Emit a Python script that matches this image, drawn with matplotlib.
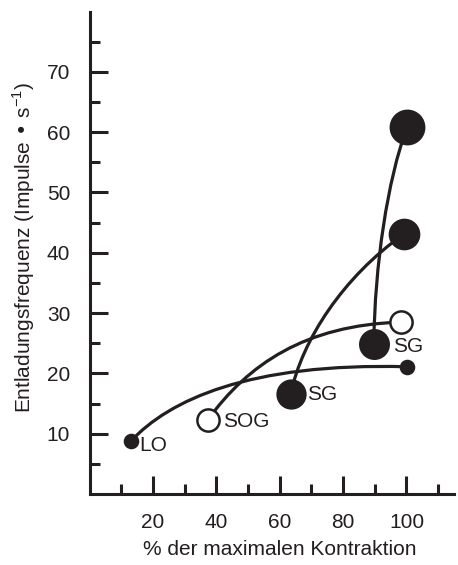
import matplotlib
matplotlib.use('Agg')
import matplotlib.pyplot as plt
from matplotlib.path import Path
from matplotlib.patches import PathPatch
from matplotlib.ticker import NullFormatter

plt.rcParams['font.family'] = ['Liberation Sans', 'DejaVu Sans']
ink = '#231f20'
fs = 15

# Startpunkte der Kurven (links) mit Beschriftung
start_x = [13.1, 37.3, 63.5, 89.7]
start_y = [8.8, 12.3, 16.6, 24.9]
start_lbl = ['LO', 'SOG', 'SG', 'SG']
# Endpunkte (rechts)
end_x = [100.1, 98.2, 99.2, 100.2]
end_y = [21.1, 28.5, 43.1, 60.9]
# Bezier-Kontrollpunkte der Verbindungskurven
ctrl1_x = [25, 50, 67, 90]
ctrl1_y = [15.5, 21.5, 25.5, 38]
ctrl2_x = [50, 68, 80, 94]
ctrl2_y = [21.8, 28, 36, 52]

# Stil
start_ms = [9.4, 16, 20, 20.5]
end_ms = [9.4, 16, 21, 24]
filled = [True, False, True, True]
lbl_off = [(5.8, -3.6), (10.8, -1.4), (11.5, -0.7), (13.7, -2.2)]

fig = plt.figure(figsize=(4.58, 5.65), dpi=100)
ax = fig.add_axes([0.1956, 0.1257, 0.7956, 0.8538])

for i in range(4):
    verts = [(start_x[i], start_y[i]), (ctrl1_x[i], ctrl1_y[i]),
             (ctrl2_x[i], ctrl2_y[i]), (end_x[i], end_y[i])]
    codes = [Path.MOVETO, Path.CURVE4, Path.CURVE4, Path.CURVE4]
    ax.add_patch(PathPatch(Path(verts, codes), fc='none', ec=ink, lw=2.3, zorder=2,
                           capstyle='round'))
    fc = ink if filled[i] else 'white'
    ax.plot(start_x[i], start_y[i], 'o', ms=start_ms[i], mfc=fc, mec=ink, mew=1.8, zorder=3)
    ax.plot(end_x[i], end_y[i], 'o', ms=end_ms[i], mfc=fc, mec=ink, mew=1.8, zorder=3)
    ax.annotate(start_lbl[i], (start_x[i], start_y[i]), xytext=lbl_off[i],
                textcoords='offset points', ha='left', va='center', fontsize=fs, color=ink)

ax.set_xlim(0, 115)
ax.set_ylim(0, 80)
ax.set_xticks([20, 40, 60, 80, 100])
ax.set_xticks([10, 30, 50, 70, 90, 110], minor=True)
ax.set_yticks([10, 20, 30, 40, 50, 60, 70])
ax.set_yticks([5, 15, 25, 35, 45, 55, 65, 75], minor=True)
ax.xaxis.set_minor_formatter(NullFormatter())
ax.yaxis.set_minor_formatter(NullFormatter())
ax.tick_params(which='both', direction='in', color=ink, width=2.2, labelsize=fs, labelcolor=ink)
ax.tick_params(which='major', length=13)
ax.tick_params(which='minor', length=7)
ax.tick_params(axis='x', pad=14)
ax.tick_params(axis='y', pad=14)

for s in ['top', 'right']:
    ax.spines[s].set_visible(False)
for s in ['left', 'bottom']:
    ax.spines[s].set_linewidth(2.2)
    ax.spines[s].set_color(ink)

ax.set_xlabel('% der maximalen Kontraktion', fontsize=fs, color=ink)
ax.set_ylabel('Entladungsfrequenz (Impulse \u2022 s$^{\\mathregular{-1}}$)', fontsize=fs, color=ink)
ax.xaxis.set_label_coords(0.522, -0.0964)
ax.yaxis.set_label_coords(-0.143, 0.511)

fig.savefig('out.png', dpi=100)
